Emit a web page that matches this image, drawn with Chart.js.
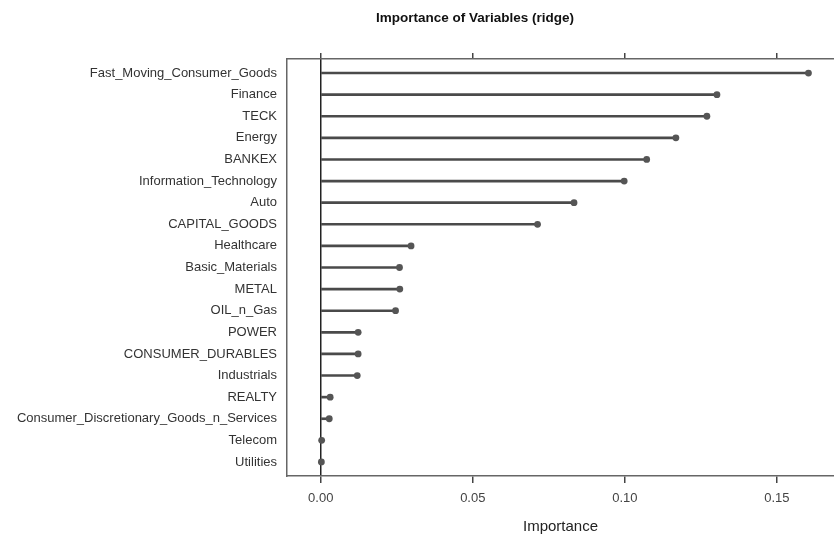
<!DOCTYPE html>
<html>
<head>
<meta charset="utf-8">
<script src="https://cdn.jsdelivr.net/npm/chart.js@4"></script>
<style>
  html, body { margin:0; padding:0; background:#fff; }
  #wrap { width:834px; height:534px; }
</style>
</head>
<body>
<div id="wrap"><canvas id="chartImportance" width="834" height="534"></canvas></div>
<script>
// variable names, top to bottom
const variables = ['Fast_Moving_Consumer_Goods','Finance','TECK','Energy','BANKEX',
  'Information_Technology','Auto','CAPITAL_GOODS','Healthcare','Basic_Materials','METAL',
  'OIL_n_Gas','POWER','CONSUMER_DURABLES','Industrials','REALTY',
  'Consumer_Discretionary_Goods_n_Services','Telecom','Utilities'];
// importance
const importance = [0.1604,0.1303,0.1270,0.1168,0.1072,
  0.0998,0.0833,0.0713,0.0297,0.0259,0.0260,
  0.0246,0.0123,0.0123,0.0120,0.0031,
  0.0028,0.0003,0.0002];
const xTicks = [0, 0.05, 0.10, 0.15];
const xTickLabels = ['0.00','0.05','0.10','0.15'];

const FONT = '"Liberation Sans", Arial, sans-serif';

// title is centred over the original figure, not the canvas
const titlePlugin = {
  id: 'plotTitle',
  afterDraw(chart){
    const c = chart.ctx;
    c.save();
    c.font = 'bold 13.5px ' + FONT;
    c.fillStyle = '#111';
    c.textAlign = 'center';
    c.textBaseline = 'middle';
    c.fillText('Importance of Variables (ridge)', 475, 18);
    c.restore();
  }
};

function setXTicks(scale){
  scale.ticks = xTicks.map(v => ({value: v}));
}

// plot box runs to the right edge of the picture
function fitX(h){
  return function(scale){
    scale.height = h;
    scale.paddingLeft = 0;
    scale.paddingRight = 0;
  };
}

function renderChart(){
  const ctx = document.getElementById('chartImportance');
  new Chart(ctx, {
    type: 'bar',
    data: {
      datasets: [
        {
          type: 'scatter',
          data: importance.map((v,i) => ({x: v, y: i})),
          pointRadius: 3.4,
          pointBackgroundColor: '#555',
          pointBorderWidth: 0,
          order: 0
        },
        {
          type: 'bar',
          data: importance.map((v,i) => ({x: [0, v], y: i})),
          backgroundColor: '#4a4a4a',
          barThickness: 2,
          order: 1
        }
      ]
    },
    options: {
      indexAxis: 'y',
      responsive: false,
      animation: false,
      layout: { padding: 0, autoPadding: false },
      plugins: { legend: {display:false}, tooltip: {enabled:false}, title: {display:false} },
      scales: {
        x: {
          type: 'linear',
          position: 'bottom',
          offset: false,
          min: -0.0111,
          max: 0.1688,
          afterBuildTicks: setXTicks,
          afterFit: fitX(58),
          grid: {
            offset: false,
            drawOnChartArea: true,
            color: c => c.tick && c.tick.value === 0 ? '#222' : 'rgba(0,0,0,0)',
            lineWidth: 1.5,
            tickColor: '#444',
            tickLength: 7
          },
          border: { display: true, color: '#666', width: 1.5 },
          ticks: {
            padding: 8,
            color: '#444',
            font: { family: FONT, size: 13 },
            callback: (v) => xTickLabels[xTicks.indexOf(v)]
          },
          title: {
            display: true,
            text: 'Importance',
            color: '#222',
            font: { family: FONT, size: 15, lineHeight: 1 },
            padding: { top: 2, bottom: 0 }
          }
        },
        x2: {
          type: 'linear',
          position: 'top',
          offset: false,
          min: -0.0111,
          max: 0.1688,
          afterBuildTicks: setXTicks,
          afterFit: fitX(59),
          grid: { offset: false, drawOnChartArea: false, tickColor: '#444', tickLength: 6, lineWidth: 1.5 },
          border: { display: true, color: '#666', width: 1.5 },
          ticks: { display: false }
        },
        y: {
          type: 'linear',
          reverse: true,
          offset: false,
          min: -0.65,
          max: 18.65,
          afterBuildTicks(scale){ scale.ticks = variables.map((_, i) => ({value: i})); },
          afterFit(scale){ scale.width = 287; scale.paddingTop = 0; scale.paddingBottom = 0; },
          grid: { display: false, drawTicks: false, offset: false },
          border: { display: true, color: '#666', width: 1.5 },
          ticks: {
            padding: 10,
            autoSkip: false,
            color: '#333',
            font: { family: FONT, size: 13 },
            callback: (v) => variables[v]
          }
        }
      }
    },
    plugins: [titlePlugin]
  });
}

renderChart();
</script>
</body>
</html>
